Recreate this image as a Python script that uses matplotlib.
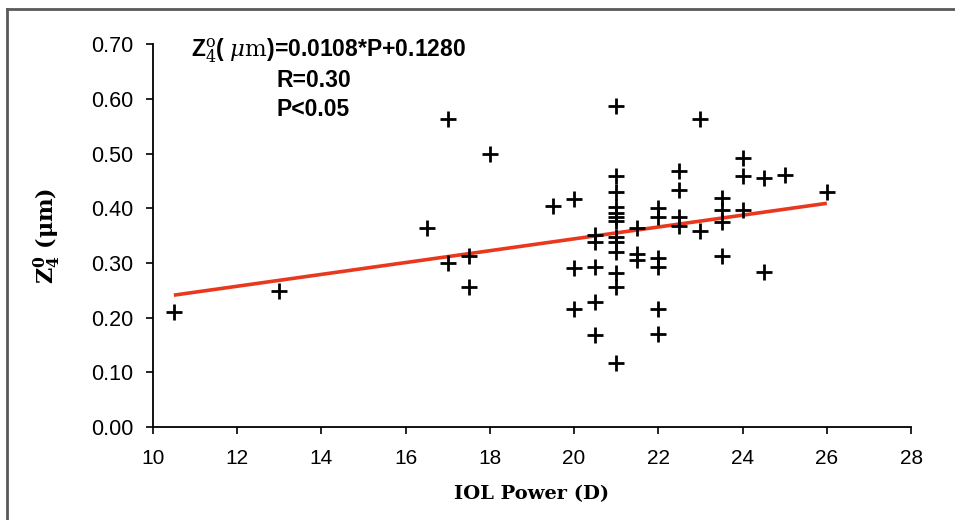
import matplotlib
matplotlib.use('Agg')
import matplotlib.pyplot as plt
from matplotlib.lines import Line2D

# global style
matplotlib.rcParams['font.family'] = ['Liberation Sans', 'DejaVu Sans']
matplotlib.rcParams['mathtext.fontset'] = 'dejavuserif'

# IOL power (D) and Z40 (um)
iolPower = [10.5, 13, 16.5, 17, 17, 17.5, 17.5, 18, 19.5,
            20, 20, 20,
            20.5, 20.5, 20.5, 20.5, 20.5,
            21, 21, 21, 21, 21, 21, 21, 21, 21, 21, 21, 21, 21,
            21.5, 21.5, 21.5,
            22, 22, 22, 22, 22, 22,
            22.5, 22.5, 22.5, 22.5,
            23, 23,
            23.5, 23.5, 23.5, 23.5,
            24, 24, 24,
            24.5, 24.5, 25, 26]
z40 = [0.210, 0.249, 0.364, 0.564, 0.300, 0.313, 0.256, 0.500, 0.404,
       0.417, 0.290, 0.216,
       0.351, 0.338, 0.292, 0.229, 0.168,
       0.587, 0.459, 0.430, 0.402, 0.392, 0.384, 0.376, 0.347, 0.338, 0.320, 0.282, 0.256, 0.117,
       0.364, 0.316, 0.306,
       0.400, 0.384, 0.309, 0.293, 0.216, 0.170,
       0.468, 0.433, 0.384, 0.367,
       0.563, 0.358,
       0.419, 0.397, 0.375, 0.313,
       0.492, 0.459, 0.397,
       0.455, 0.283, 0.461, 0.430]

# regression line end points
fitX = [10.5, 26]
fitY = [0.241, 0.409]

xTicks = [10, 12, 14, 16, 18, 20, 22, 24, 26, 28]
yTicks = [0.0, 0.1, 0.2, 0.3, 0.4, 0.5, 0.6, 0.7]

fig = plt.figure(figsize=(9.55, 5.2), dpi=100)
ax = fig.add_axes([0.160, 0.179, 0.794, 0.736])

ax.plot(fitX, fitY, color='#e8391e', linewidth=2.6, solid_capstyle='butt', zorder=2)
ax.plot(iolPower, z40, linestyle='none', marker='+', markersize=11.5, markeredgewidth=2.0,
        color='black', zorder=3)

ax.set_xlim(10, 28)
ax.set_ylim(0, 0.7)
ax.set_xticks(xTicks)
ax.set_yticks(yTicks)
ax.set_yticklabels(['{:.2f}'.format(v) for v in yTicks])
ax.tick_params(direction='out', length=5, width=1.2)
ax.tick_params(axis='y', pad=9, labelsize=15.5)
ax.tick_params(axis='x', pad=11, labelsize=15)
ax.spines['top'].set_visible(False)
ax.spines['right'].set_visible(False)
ax.spines['left'].set_linewidth(1.3)
ax.spines['bottom'].set_linewidth(1.3)

ax.set_xlabel('IOL Power (D)', fontfamily='DejaVu Serif', fontweight='bold', fontsize=14, labelpad=12)
ax.set_ylabel(r'$\mathbf{Z}^{\mathbf{0}}_{\mathbf{4}}$ (μm)', fontfamily='DejaVu Serif',
              fontweight='bold', fontsize=16, labelpad=20)

# equation text
ax.text(0.050, 0.985, r'Z$^{\mathrm{o}}_{4}$( $\mu\mathrm{m}$)=0.0108*P+0.1280', transform=ax.transAxes,
        fontsize=16.5, fontweight='bold', va='center', ha='left')
ax.text(0.163, 0.905, 'R=0.30', transform=ax.transAxes, fontsize=16.5, fontweight='bold',
        va='center', ha='left')
ax.text(0.163, 0.830, 'P<0.05', transform=ax.transAxes, fontsize=16.5, fontweight='bold',
        va='center', ha='left')

# frame edge (cropped box)
fig.add_artist(Line2D([0.0073, 0.0073], [0, 0.983], transform=fig.transFigure, color='#5a5a5a', linewidth=2))
fig.add_artist(Line2D([0.0073, 1.0], [0.983, 0.983], transform=fig.transFigure, color='#5a5a5a', linewidth=2))

fig.savefig('out.png', dpi=100)
